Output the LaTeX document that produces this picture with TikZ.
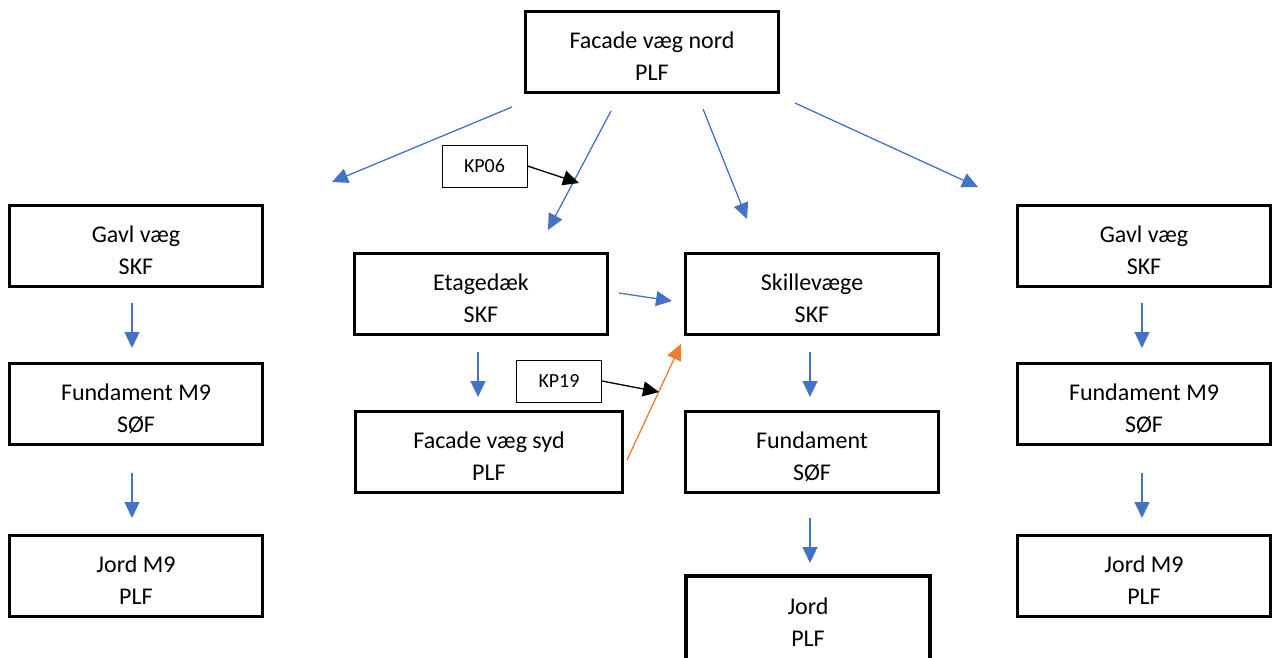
\documentclass[tikz,border=0pt]{standalone}
\usepackage{fontspec}
\setmainfont{Carlito}
\usetikzlibrary{arrows.meta}
\definecolor{arrblue}{HTML}{4472C4}
\definecolor{arrorange}{HTML}{ED7D31}
\tikzset{
  box/.style={draw=black, line width=3.2pt, fill=white, minimum width=253pt, minimum height=81pt, align=center, inner sep=0pt, text height=56pt, text depth=0pt, font=\fontsize{24}{32}\selectfont},
  kpbox/.style={draw=black, line width=1pt, minimum width=85pt, minimum height=42pt, inner sep=0pt, font=\fontsize{20}{24}\selectfont},
  barrow/.style={draw=arrblue, line width=1.3pt, -{Triangle[length=16pt,width=15pt]}},
  oarrow/.style={draw=arrorange, line width=1.3pt, -{Triangle[length=16pt,width=15pt]}},
  karrow/.style={draw=black, line width=1.3pt, -{Triangle[length=16pt,width=15pt]}}
}
\begin{document}
\begin{tikzpicture}[x=1pt,y=-1pt]
\useasboundingbox (0,0) rectangle (1274,657);
% boxes
\node[box] (top) at (652,52) {Facade væg nord\\PLF};
\node[box] (gl) at (136,246) {Gavl væg\\SKF};
\node[box] (fl) at (136,404) {Fundament M9\\SØF};
\node[box] (jl) at (136,576) {Jord M9\\PLF};
\node[box] (et) at (481,294) {Etagedæk\\SKF};
\node[box, minimum width=267pt] (fs) at (489,452) {Facade væg syd\\PLF};
\node[box] (sk) at (812,294) {Skillevæge\\SKF};
\node[box] (fu) at (812,452) {Fundament\\SØF};
\node[box, minimum width=244pt, minimum height=100pt, text height=0pt, text depth=0pt] (jo) at (808,626) {};
\node[font=\fontsize{24}{32}\selectfont, align=center] (jot) at (808,622) {Jord\\PLF};
\node[box] (gr) at (1144,246) {Gavl væg\\SKF};
\node[box] (fr) at (1144,404) {Fundament M9\\SØF};
\node[box] (jr) at (1144,576) {Jord M9\\PLF};
\node[kpbox] (kp06) at (484.5,166) {KP06};
\node[kpbox] (kp19) at (559,381) {KP19};
% arrow endpoints
\coordinate (a1s) at (512,107); \coordinate (a1e) at (332,182);
\coordinate (a2s) at (611,111); \coordinate (a2e) at (548,230);
\coordinate (a3s) at (703,109); \coordinate (a3e) at (747,219);
\coordinate (a4s) at (795,103); \coordinate (a4e) at (978,187);
\coordinate (l1s) at (132,303); \coordinate (l1e) at (132,348);
\coordinate (l2s) at (132,473); \coordinate (l2e) at (132,518);
\coordinate (r1s) at (1142,303); \coordinate (r1e) at (1142,348);
\coordinate (r2s) at (1142,473); \coordinate (r2e) at (1142,518);
\coordinate (e1s) at (478,352); \coordinate (e1e) at (478,397);
\coordinate (e2s) at (619,293); \coordinate (e2e) at (672,301);
\coordinate (s1s) at (810,352); \coordinate (s1e) at (810,397);
\coordinate (s2s) at (810,518); \coordinate (s2e) at (810,563);
\coordinate (os) at (627,460); \coordinate (oe) at (681,344);
\coordinate (k1e) at (579,183);
\coordinate (k2e) at (659,392);
% arrows
\draw[barrow] (a1s) -- (a1e);
\draw[barrow] (a2s) -- (a2e);
\draw[barrow] (a3s) -- (a3e);
\draw[barrow] (a4s) -- (a4e);
\draw[barrow] (l1s) -- (l1e);
\draw[barrow] (l2s) -- (l2e);
\draw[barrow] (r1s) -- (r1e);
\draw[barrow] (r2s) -- (r2e);
\draw[barrow] (e1s) -- (e1e);
\draw[barrow] (e2s) -- (e2e);
\draw[barrow] (s1s) -- (s1e);
\draw[barrow] (s2s) -- (s2e);
\draw[oarrow] (os) -- (oe);
\draw[karrow] (kp06.east) -- (k1e);
\draw[karrow] (kp19.east) -- (k2e);
\end{tikzpicture}
\end{document}
